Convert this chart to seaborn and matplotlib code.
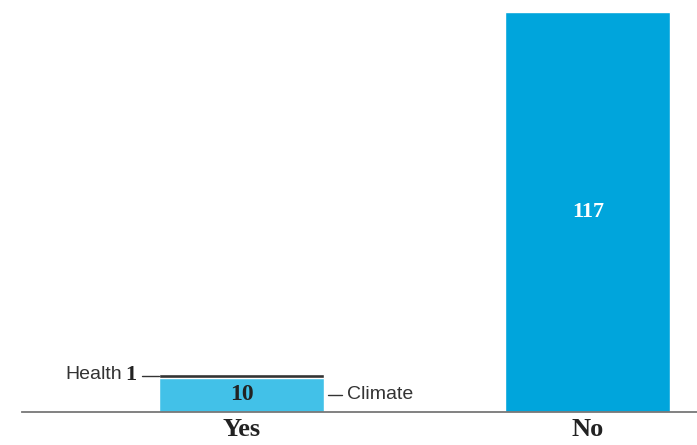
import matplotlib
matplotlib.use("Agg")
import matplotlib.pyplot as plt
import seaborn as sns
import pandas as pd

answers = ["Yes", "No"]
climate = [10, 0]
health = [1, 0]
no_total = [0, 117]

totals = [c + h + n for c, h, n in zip(climate, health, no_total)]

sns.set_style("white")

fig = plt.figure(figsize=(6.97, 4.45), dpi=100)
ax = fig.add_axes([22 / 697, 33 / 445, 675 / 697, 400 / 445])

df_total = pd.DataFrame({"answer": answers, "value": totals})
df_climate = pd.DataFrame({"answer": answers[:1], "value": climate[:1]})

bar_w = 0.476
# full stack first (health on top shows as the dark band), then climate over it
sns.barplot(data=df_total, x="answer", y="value", order=answers,
            hue="answer", palette=["#333333", "#00A5DC"], legend=False,
            width=bar_w, saturation=1, ax=ax)
sns.barplot(data=df_climate, x="answer", y="value", order=answers,
            color="#42C1E8", width=bar_w, saturation=1, ax=ax)

ax.set_xlim(-0.6335, 1.315)
ax.set_ylim(0, 117)

serif = "Liberation Serif"
sans = "Liberation Sans"

# value labels
ax.text(0, climate[0] / 2, str(climate[0]), ha="center", va="center",
        fontsize=17, fontweight="bold", family=serif, color="#222222")
ax.text(1, no_total[1] / 2, str(no_total[1]), ha="center", va="center",
        fontsize=16, fontweight="bold", family=serif, color="white")

# health leader
hy = climate[0] + health[0] / 2
ax.plot([-bar_w / 2 - 0.05, -bar_w / 2], [hy, hy], color="#333333", lw=1, clip_on=False)
ax.text(-0.302, hy + 0.4, str(health[0]), ha="right", va="center",
        fontsize=16, fontweight="bold", family=serif, color="#222222")
ax.text(-0.345, hy + 0.4, "Health", ha="right", va="center",
        fontsize=14, family=sans, color="#333333")

# climate leader
cy = climate[0] / 2
ax.plot([bar_w / 2 + 0.012, bar_w / 2 + 0.053], [cy, cy], color="#333333", lw=1, clip_on=False)
ax.text(0.3045, cy, "Climate", ha="left", va="center",
        fontsize=14, family=sans, color="#333333")

for s in ["top", "right", "left"]:
    ax.spines[s].set_visible(False)
ax.spines["bottom"].set_color("#777777")
ax.spines["bottom"].set_linewidth(1.3)

ax.set_yticks([])
ax.set_xlabel("")
ax.set_ylabel("")
ax.tick_params(axis="x", length=0, pad=4)
for lbl in ax.get_xticklabels():
    lbl.set_fontfamily(serif)
    lbl.set_fontweight("bold")
    lbl.set_fontsize(19)
    lbl.set_color("#222222")

fig.savefig("out.png", dpi=100)
